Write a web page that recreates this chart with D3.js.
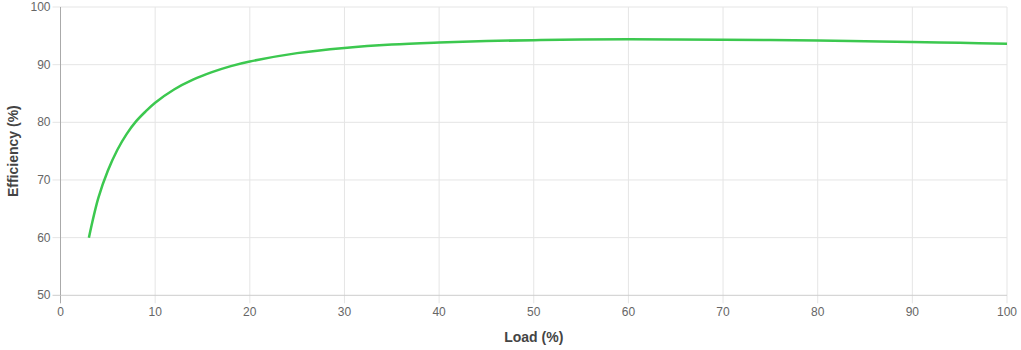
<!DOCTYPE html>
<html>
<head>
<meta charset="utf-8">
<script src="https://cdn.jsdelivr.net/npm/d3@7"></script>
<style>
  body { margin: 0; background: #fff; }
  text { font-family: "Liberation Sans", Arial, Helvetica, sans-serif; }
</style>
</head>
<body>
<div id="viz"></div>
<script>
// values
var loads = [3, 4, 5, 6, 7, 8, 9, 10, 12, 14, 16, 18, 20, 25, 30, 35, 40, 45, 50, 55, 60, 65, 70, 75, 80, 85, 90, 95, 100];
var efficiency = [60.0, 66.9, 71.6, 75.2, 78.0, 80.2, 81.9, 83.4, 85.7, 87.4, 88.7, 89.75, 90.55, 92.0, 92.9, 93.5, 93.85, 94.1, 94.25, 94.37, 94.4, 94.38, 94.33, 94.26, 94.17, 94.05, 93.93, 93.78, 93.64];
var x_ticks = [0, 10, 20, 30, 40, 50, 60, 70, 80, 90, 100];
var y_ticks = [50, 60, 70, 80, 90, 100];

var width = 1021,
    height = 350;

var line_color = '#3cc84f',
    grid_color = '#e5e5e5',
    tick_color = '#666',
    title_color = '#444';

// plot area edges (window.top is reserved, so prefix these)
var plot_left = 60.5, plot_right = 1007, plot_top = 7, plot_bottom = 295.3;

var x = d3.scaleLinear().domain([0, 100]).range([plot_left, plot_right]);
var y = d3.scaleLinear().domain([50, 100]).range([plot_bottom, plot_top]);

var svg = d3.select('#viz')
   .append('svg')
   .attr('width', width)
   .attr('height', height);

// gridlines
svg.selectAll('.vgrid')
   .data(x_ticks)
   .enter()
   .append('line')
   .attr('x1', d => x(d)).attr('x2', d => x(d))
   .attr('y1', plot_top).attr('y2', plot_bottom + 8)
   .style('stroke', d => d === 0 ? '#aaa' : grid_color)
   .style('stroke-width', 1);

svg.selectAll('.hgrid')
   .data(y_ticks)
   .enter()
   .append('line')
   .attr('x1', plot_left - 8).attr('x2', plot_right)
   .attr('y1', d => y(d)).attr('y2', d => y(d))
   .style('stroke', d => d === 50 ? '#ccc' : grid_color)
   .style('stroke-width', 1);

// redraw the left axis over the horizontal lines
svg.append('line')
   .attr('x1', x(0)).attr('x2', x(0))
   .attr('y1', plot_top).attr('y2', plot_bottom)
   .style('stroke', '#aaa');

// tick labels
svg.selectAll('.xlabel')
   .data(x_ticks)
   .enter()
   .append('text')
   .attr('x', d => x(d))
   .attr('y', plot_bottom + 21)
   .attr('text-anchor', 'middle')
   .style('font-size', '12px')
   .style('fill', tick_color)
   .text(d => d);

svg.selectAll('.ylabel')
   .data(y_ticks)
   .enter()
   .append('text')
   .attr('x', plot_left - 10)
   .attr('y', d => y(d) + 4)
   .attr('text-anchor', 'end')
   .style('font-size', '12px')
   .style('fill', tick_color)
   .text(d => d);

// axis titles
svg.append('text')
   .attr('x', (plot_left + plot_right) / 2)
   .attr('y', 342)
   .attr('text-anchor', 'middle')
   .style('font-size', '14px')
   .style('font-weight', 'bold')
   .style('fill', title_color)
   .text('Load (%)');

svg.append('text')
   .attr('transform', `translate(18, ${(plot_top + plot_bottom) / 2})rotate(-90)`)
   .attr('text-anchor', 'middle')
   .style('font-size', '14px')
   .style('font-weight', 'bold')
   .style('fill', title_color)
   .text('Efficiency (%)');

// the curve
var points = loads.map((l, i) => [l, efficiency[i]]);
var line = d3.line()
   .x(d => x(d[0]))
   .y(d => y(d[1]))
   .curve(d3.curveCatmullRom.alpha(0.5));

svg.append('path')
   .datum(points)
   .attr('d', line)
   .style('fill', 'none')
   .style('stroke', line_color)
   .style('stroke-width', 2.5);
</script>
</body>
</html>
